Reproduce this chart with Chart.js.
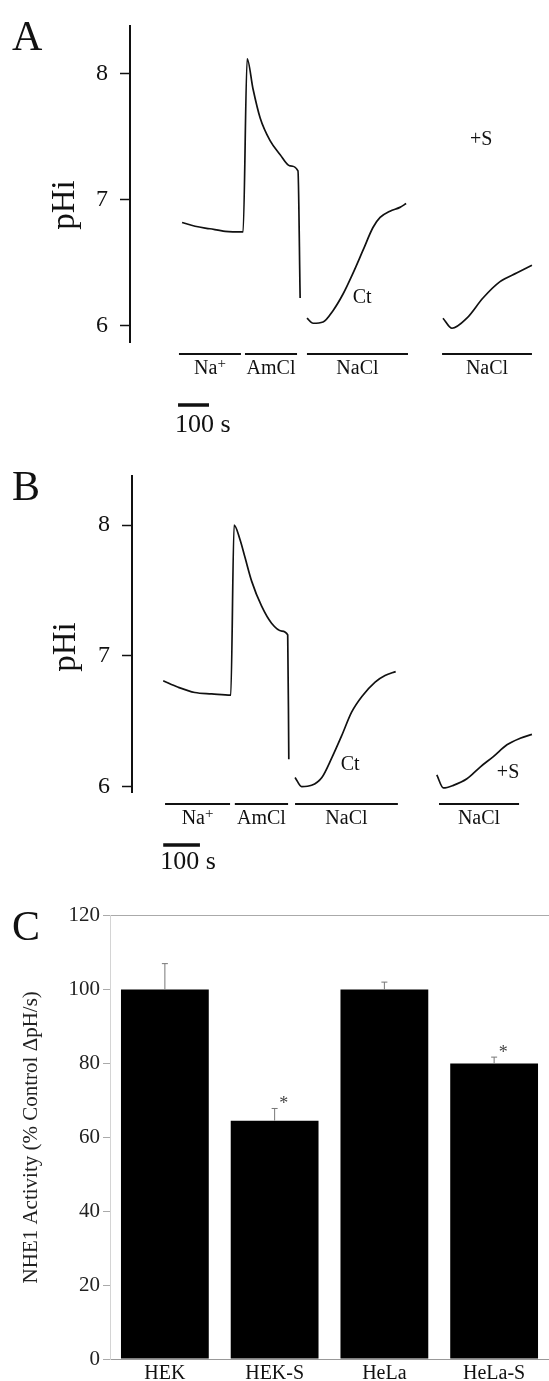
<!DOCTYPE html>
<html>
<head>
<meta charset="utf-8">
<script src="https://cdn.jsdelivr.net/npm/chart.js@4.4.1/dist/chart.umd.min.js"></script>
<style>
body { margin: 0; background: #fff; }
.panel { position: absolute; left: 0; width: 549px; }
</style>
</head>
<body>
<div class="panel" style="top:0;height:450px"><canvas id="chartA"></canvas></div>
<div class="panel" style="top:450px;height:450px"><canvas id="chartB"></canvas></div>
<div class="panel" style="top:900px;height:481px"><canvas id="chartC"></canvas></div>
<script>
// pHi traces, time in seconds from the start of each recording
// panel A: Na+ / AmCl pulse, recovery in NaCl (Ct), recovery with +S
var timeA1 = [0, 42, 90, 139, 197, 210, 229, 252, 284, 316, 348, 374, 381];
var phA1 = [6.82, 6.79, 6.77, 6.75, 6.745, 8.12, 7.88, 7.65, 7.47, 7.36, 7.27, 7.23, 6.22];
var timeA2 = [403, 423, 455, 487, 519, 552, 584, 616, 639, 671, 703, 723];
var phA2 = [6.06, 6.02, 6.03, 6.12, 6.25, 6.42, 6.60, 6.78, 6.86, 6.91, 6.94, 6.97];
var timeA3 = [842, 871, 919, 971, 1026, 1081, 1129];
var phA3 = [6.06, 5.98, 6.06, 6.22, 6.35, 6.42, 6.48];

// panel B
var timeB1 = [0, 41, 86, 132, 184, 193, 209, 223, 241, 268, 295, 323, 339, 342];
var phB1 = [6.81, 6.76, 6.72, 6.71, 6.70, 8.00, 7.89, 7.75, 7.57, 7.38, 7.25, 7.19, 7.16, 6.21];
var timeB2 = [359, 377, 404, 432, 459, 486, 513, 541, 577, 604, 633];
var phB2 = [6.07, 6.00, 6.01, 6.07, 6.22, 6.39, 6.57, 6.69, 6.80, 6.85, 6.88];
var timeB3 = [745, 763, 790, 827, 863, 899, 936, 972, 1004];
var phB3 = [6.09, 5.99, 6.01, 6.06, 6.15, 6.23, 6.32, 6.37, 6.40];

// perfusion solutions under the traces
var solLabels = ['Na+', 'AmCl', 'NaCl', 'NaCl'];
var solStartA = [-10, 203, 403, 839];
var solEndA = [190, 371, 729, 1129];
var solStartB = [5, 195, 359, 751];
var solEndB = [182, 340, 639, 969];
var phTicks = [6, 7, 8];
var scaleBarSeconds = 100;

// panel C
var cells = ['HEK', 'HEK-S', 'HeLa', 'HeLa-S'];
var activity = [100, 64.5, 100, 80];
var activityErr = [7, 3.3, 2, 1.7];
var significant = [false, true, false, true];

var serif = '"Liberation Serif", "DejaVu Serif", serif';
var ink = '#111';

function pts(xs, ys) {
    var out = [];
    for (var i = 0; i < xs.length; i++) {
	out.push({x: xs[i], y: ys[i]});
    }
    return out;
}

function traceDataset(xs, ys) {
    return {
	data: pts(xs, ys),
	borderColor: ink,
	borderWidth: 1.7,
	pointRadius: 0,
	cubicInterpolationMode: 'monotone',
    };
}

// drawLabel draws a solution label, with a raised "+" for Na+.
function drawLabel(ctx, text, cx, cy) {
    if (text.slice(-1) == '+') {
	var base = text.slice(0, -1);
	ctx.font = '20px ' + serif;
	var w1 = ctx.measureText(base).width;
	ctx.font = '15px ' + serif;
	var w2 = ctx.measureText('+').width;
	var left = cx - (w1 + w2) / 2;
	ctx.textAlign = 'left';
	ctx.font = '20px ' + serif;
	ctx.fillText(base, left, cy);
	ctx.font = '15px ' + serif;
	ctx.fillText('+', left + w1, cy - 5);
	ctx.textAlign = 'center';
	return;
    }
    ctx.font = '20px ' + serif;
    ctx.fillText(text, cx, cy);
}

var panelLetter = {
    id: 'panelLetter',
    afterDraw: function(chart, args, opts) {
	var ctx = chart.ctx;
	ctx.save();
	ctx.fillStyle = ink;
	ctx.font = '42px ' + serif;
	ctx.textAlign = 'left';
	ctx.textBaseline = 'alphabetic';
	ctx.fillText(opts.letter, 12, opts.baseline);
	ctx.restore();
    }
};

var traceMarks = {
    id: 'traceMarks',
    afterDatasetsDraw: function(chart, args, opts) {
	var ctx = chart.ctx, xs = chart.scales.x, ys = chart.scales.y;
	var area = chart.chartArea;
	ctx.save();
	ctx.fillStyle = ink;
	ctx.strokeStyle = ink;
	ctx.textAlign = 'center';
	ctx.textBaseline = 'middle';
	// solution bars
	ctx.lineWidth = 2;
	for (var i = 0; i < solLabels.length; i++) {
	    var x0 = xs.getPixelForValue(opts.solStart[i]);
	    var x1 = xs.getPixelForValue(opts.solEnd[i]);
	    ctx.beginPath();
	    ctx.moveTo(x0, area.bottom + 12);
	    ctx.lineTo(x1, area.bottom + 12);
	    ctx.stroke();
	    drawLabel(ctx, solLabels[i], (x0 + x1) / 2, area.bottom + 27);
	}
	// time scale bar
	var s0 = xs.getPixelForValue(opts.barStart);
	var s1 = xs.getPixelForValue(opts.barStart + scaleBarSeconds);
	ctx.lineWidth = 3.5;
	ctx.beginPath();
	ctx.moveTo(s0, area.bottom + opts.barOffset);
	ctx.lineTo(s1, area.bottom + opts.barOffset);
	ctx.stroke();
	ctx.font = '26px ' + serif;
	ctx.textAlign = 'left';
	ctx.fillText(scaleBarSeconds + ' s', s0 - 3, area.bottom + opts.textOffset);
	// trace labels
	ctx.textAlign = 'center';
	ctx.font = '20px ' + serif;
	ctx.fillText('Ct', xs.getPixelForValue(opts.ctAt[0]), ys.getPixelForValue(opts.ctAt[1]));
	ctx.fillText('+S', xs.getPixelForValue(opts.sAt[0]), ys.getPixelForValue(opts.sAt[1]));
	// y axis title
	ctx.save();
	ctx.translate(opts.titleX, opts.titleY);
	ctx.rotate(-Math.PI / 2);
	ctx.font = '33px ' + serif;
	ctx.fillText('pHi', 0, 0);
	ctx.restore();
	ctx.restore();
    }
};

function traceChart(id, p) {
    var conf = {
	type: 'line',
	data: {
	    datasets: [
		traceDataset(p.t1, p.ph1),
		traceDataset(p.t2, p.ph2),
		traceDataset(p.t3, p.ph3),
	    ]
	},
	options: {
	    animation: false,
	    responsive: true,
	    maintainAspectRatio: false,
	    layout: {padding: {top: 15, bottom: 108, left: 0, right: 9}},
	    plugins: {
		legend: {display: false},
		tooltip: {enabled: false},
		traceMarks: p.marks,
		panelLetter: {letter: p.letter, baseline: 50},
	    },
	    scales: {
		x: {
		    type: 'linear',
		    display: false,
		    min: p.xMin,
		    max: p.xMax,
		},
		y: {
		    min: p.yMin,
		    max: p.yMax,
		    afterFit: function(s) { s.width = p.axisWidth; },
		    afterBuildTicks: function(s) {
			s.ticks = phTicks.map(function(v) { return {value: v}; });
		    },
		    border: {display: true, color: ink, width: 2},
		    grid: {
			drawOnChartArea: false,
			drawTicks: true,
			tickLength: 10,
			tickColor: ink,
			tickWidth: 1.5,
		    },
		    ticks: {
			color: ink,
			padding: 12,
			font: {family: serif, size: 24},
		    },
		},
	    },
	},
	plugins: [traceMarks, panelLetter],
    };
    return new Chart(document.getElementById(id), conf);
}

traceChart('chartA', {
    letter: 'A',
    t1: timeA1, ph1: phA1, t2: timeA2, ph2: phA2, t3: timeA3, ph3: phA3,
    xMin: -168, xMax: 1155, yMin: 5.871, yMax: 8.377, axisWidth: 130,
    marks: {
	solStart: solStartA, solEnd: solEndA,
	barStart: -13, barOffset: 63, textOffset: 83,
	ctAt: [581, 6.22], sAt: [965, 7.48],
	titleX: 65, titleY: 205,
    },
});

traceChart('chartB', {
    letter: 'B',
    t1: timeB1, ph1: phB1, t2: timeB2, ph2: phB2, t3: timeB3, ph3: phB3,
    xMin: -85, xMax: 1026, yMin: 5.959, yMax: 8.373, axisWidth: 132,
    marks: {
	solStart: solStartB, solEnd: solEndB,
	barStart: 0, barOffset: 53, textOffset: 70,
	ctAt: [509, 6.17], sAt: [939, 6.11],
	titleX: 66, titleY: 197,
    },
});

var errorBars = {
    id: 'errorBars',
    afterDatasetsDraw: function(chart) {
	var ctx = chart.ctx, ys = chart.scales.y;
	var meta = chart.getDatasetMeta(0);
	ctx.save();
	ctx.strokeStyle = '#777';
	ctx.lineWidth = 1;
	for (var i = 0; i < meta.data.length; i++) {
	    var bar = meta.data[i];
	    var top = ys.getPixelForValue(activity[i] + activityErr[i]);
	    ctx.beginPath();
	    ctx.moveTo(bar.x, bar.y);
	    ctx.lineTo(bar.x, top);
	    ctx.moveTo(bar.x - 3, top);
	    ctx.lineTo(bar.x + 3, top);
	    ctx.stroke();
	    if (significant[i]) {
		ctx.fillStyle = '#444';
		ctx.font = '18px ' + serif;
		ctx.textAlign = 'center';
		ctx.textBaseline = 'middle';
		ctx.fillText('*', bar.x + 9, top - 4);
	    }
	}
	ctx.restore();
    }
};

new Chart(document.getElementById('chartC'), {
    type: 'bar',
    data: {
	labels: cells,
	datasets: [{
	    data: activity,
	    backgroundColor: '#000',
	    borderWidth: 0,
	    barPercentage: 0.8,
	    categoryPercentage: 1.0,
	}],
    },
    options: {
	animation: false,
	responsive: true,
	maintainAspectRatio: false,
	layout: {padding: {top: 15, bottom: 0, left: 0, right: 0}},
	plugins: {
	    legend: {display: false},
	    tooltip: {enabled: false},
	    panelLetter: {letter: 'C', baseline: 40},
	},
	scales: {
	    x: {
		afterFit: function(s) { s.height = 22; },
		border: {display: true, color: '#999', width: 1},
		grid: {display: false, drawTicks: false},
		ticks: {
		    color: ink,
		    padding: 5,
		    font: {family: serif, size: 20, lineHeight: 1},
		},
	    },
	    y: {
		min: 0,
		max: 120,
		afterFit: function(s) { s.width = 110; },
		border: {display: true, color: '#d4d4d4', width: 1},
		grid: {
		    color: function(c) { return c.tick && c.tick.value == 120 ? '#aaa' : 'rgba(0,0,0,0)'; },
		    tickColor: '#aaa',
		    tickLength: 7,
		},
		ticks: {
		    stepSize: 20,
		    color: '#222',
		    padding: 3,
		    font: {family: serif, size: 21},
		},
		title: {
		    display: true,
		    text: 'NHE1 Activity (% Control ΔpH/s)',
		    color: '#222',
		    padding: {top: 19, bottom: 0},
		    font: {family: serif, size: 21},
		},
	    },
	},
    },
    plugins: [errorBars, panelLetter],
});
</script>
</body>
</html>
